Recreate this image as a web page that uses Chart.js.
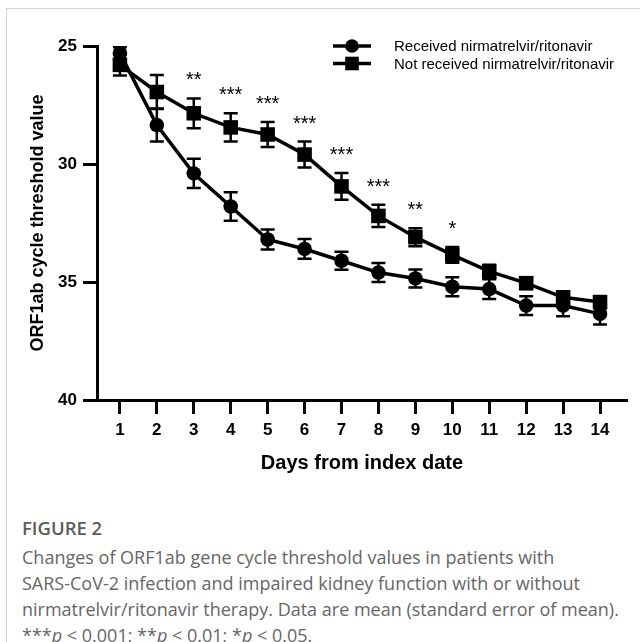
<!DOCTYPE html>
<html>
<head>
<meta charset="utf-8">
<script src="https://cdn.jsdelivr.net/npm/chart.js@4.4.1/dist/chart.umd.min.js"></script>
<style>
  html, body { margin: 0; padding: 0; background: #fff; }
  body { width: 640px; height: 642px; position: relative; overflow: hidden; }
  .frame { position: absolute; left: 6px; top: 8px; width: 700px; height: 700px;
           border-top: 1px solid #d2d2d2; border-left: 1px solid #d2d2d2; }
  #chart { position: absolute; left: 0; top: 0; }
  .caption { position: absolute; left: 22px; top: 515px; font-family: 'Open Sans', sans-serif;
             color: #666; font-size: 18px; line-height: 26px; white-space: nowrap; }
  .caption h2 { margin: 0 0 3px; font-size: 18.5px; line-height: 26px; font-weight: 600; color: #5c5c5c; }
</style>
</head>
<body>
<div class="frame"></div>
<canvas id="chart" width="640" height="490"></canvas>
<div class="caption">
  <h2>FIGURE 2</h2>
  Changes of ORF1ab gene cycle threshold values in patients with<br>
  SARS-CoV-2 infection and impaired kidney function with or without<br>
  nirmatrelvir/ritonavir therapy. Data are mean (standard error of mean).<br>
  ***<i>p</i> &lt; 0.001; **<i>p</i> &lt; 0.01; *<i>p</i> &lt; 0.05.
</div>
<script>
const days = [1, 2, 3, 4, 5, 6, 7, 8, 9, 10, 11, 12, 13, 14];
const received = [25.3, 28.35, 30.4, 31.8, 33.2, 33.6, 34.1, 34.6, 34.85, 35.2, 35.3, 36.0, 36.0, 36.35];
const receivedSem = [0.25, 0.7, 0.62, 0.6, 0.42, 0.42, 0.38, 0.4, 0.38, 0.4, 0.42, 0.4, 0.45, 0.45];
const notReceived = [25.8, 26.95, 27.85, 28.45, 28.75, 29.6, 30.95, 32.2, 33.1, 33.85, 34.55, 35.05, 35.65, 35.85];
const notReceivedSem = [0.45, 0.72, 0.63, 0.6, 0.53, 0.55, 0.57, 0.47, 0.38, 0.33, 0.28, 0.25, 0.25, 0.25];
const significance = ['', '', '**', '***', '***', '***', '***', '***', '**', '*', '', '', '', ''];
const yTicks = [25, 30, 35, 40];

const font = '"Liberation Sans", Arial, sans-serif';

// mean +/- SEM whiskers, drawn under the lines and markers
const errorBars = {
    id: 'errorBars',
    beforeDatasetsDraw(chart) {
        const { ctx, scales: { x, y } } = chart;
        ctx.save();
        ctx.strokeStyle = '#000';
        ctx.lineWidth = 2.5;
        chart.data.datasets.forEach(ds => {
            ds.data.forEach((p, i) => {
                const px = x.getPixelForValue(p.x);
                const top = y.getPixelForValue(p.y - ds.sem[i]);
                const bottom = y.getPixelForValue(p.y + ds.sem[i]);
                ctx.beginPath();
                ctx.moveTo(px, top); ctx.lineTo(px, bottom);
                ctx.moveTo(px - 7, top); ctx.lineTo(px + 7, top);
                ctx.moveTo(px - 7, bottom); ctx.lineTo(px + 7, bottom);
                ctx.stroke();
            });
        });
        ctx.restore();
    }
};

// significance stars above the upper whisker
const stars = {
    id: 'stars',
    afterDatasetsDraw(chart) {
        const { ctx, scales: { x, y } } = chart;
        ctx.save();
        ctx.font = '20px ' + font;
        ctx.textAlign = 'center';
        ctx.textBaseline = 'alphabetic';
        ctx.fillStyle = '#000';
        significance.forEach((s, i) => {
            if (!s) return;
            const top = y.getPixelForValue(notReceived[i] - notReceivedSem[i]);
            ctx.fillText(s, x.getPixelForValue(days[i]), top - 12);
        });
        ctx.restore();
    }
};

// legend with line + marker, like the original
const lineLegend = {
    id: 'lineLegend',
    afterDraw(chart) {
        const { ctx } = chart;
        ctx.save();
        ctx.fillStyle = '#000';
        ctx.strokeStyle = '#000';
        chart.data.datasets.forEach((ds, i) => {
            const ly = 46 + i * 17.5;
            ctx.lineWidth = 3.5;
            ctx.beginPath();
            ctx.moveTo(333, ly); ctx.lineTo(371, ly);
            ctx.stroke();
            if (ds.pointStyle === 'circle') {
                ctx.beginPath();
                ctx.arc(352, ly, 6.8, 0, Math.PI * 2);
                ctx.fill();
            } else {
                ctx.fillRect(352 - 6.8, ly - 6.8, 13.6, 13.6);
            }
            ctx.font = '15px ' + font;
            ctx.textBaseline = 'middle';
            ctx.textAlign = 'left';
            ctx.fillText(ds.label, 394, ly + 1);
        });
        ctx.restore();
    }
};

const axisGrid = {
    drawOnChartArea: false,
    drawTicks: true,
    tickLength: 14,
    tickWidth: 3,
    tickColor: '#000'
};

new Chart(document.getElementById('chart'), {
    type: 'line',
    data: {
        datasets: [{
            label: 'Received nirmatrelvir/ritonavir',
            data: days.map((d, i) => ({ x: d, y: received[i] })),
            sem: receivedSem,
            borderColor: '#000',
            backgroundColor: '#000',
            pointBackgroundColor: '#000',
            borderWidth: 3.5,
            pointStyle: 'circle',
            pointRadius: 7.3,
            pointBorderWidth: 0
        }, {
            label: 'Not received nirmatrelvir/ritonavir',
            data: days.map((d, i) => ({ x: d, y: notReceived[i] })),
            sem: notReceivedSem,
            borderColor: '#000',
            backgroundColor: '#000',
            pointBackgroundColor: '#000',
            borderWidth: 3.5,
            pointStyle: 'rect',
            pointRadius: 10.3,
            pointBorderWidth: 0
        }]
    },
    options: {
        responsive: false,
        animation: false,
        layout: { padding: { top: 46, right: 13, left: 0, bottom: 0 } },
        plugins: {
            legend: { display: false },
            tooltip: { enabled: false }
        },
        scales: {
            x: {
                type: 'linear',
                min: 0.38,
                max: 14.73,
                afterBuildTicks: scale => { scale.ticks = days.map(v => ({ value: v })); },
                afterFit: scale => { scale.height = 90; },
                grid: axisGrid,
                border: { display: true, width: 3, color: '#000' },
                ticks: { color: '#000', padding: 6, font: { family: font, size: 17, weight: 'bold' } },
                title: {
                    display: true,
                    text: 'Days from index date',
                    color: '#000',
                    padding: { top: 0, bottom: 15 },
                    font: { family: font, size: 20, weight: 'bold' }
                }
            },
            y: {
                min: 25,
                max: 40,
                reverse: true,
                afterBuildTicks: scale => { scale.ticks = yTicks.map(v => ({ value: v })); },
                afterFit: scale => { scale.width = 97; },
                grid: axisGrid,
                border: { display: true, width: 3, color: '#000' },
                ticks: { color: '#000', padding: 6, font: { family: font, size: 17, weight: 'bold' } },
                title: {
                    display: true,
                    text: 'ORF1ab cycle threshold value',
                    color: '#000',
                    padding: { top: 27, bottom: 0 },
                    font: { family: font, size: 18, weight: 'bold' }
                }
            }
        }
    },
    plugins: [errorBars, stars, lineLegend]
});
</script>
</body>
</html>
